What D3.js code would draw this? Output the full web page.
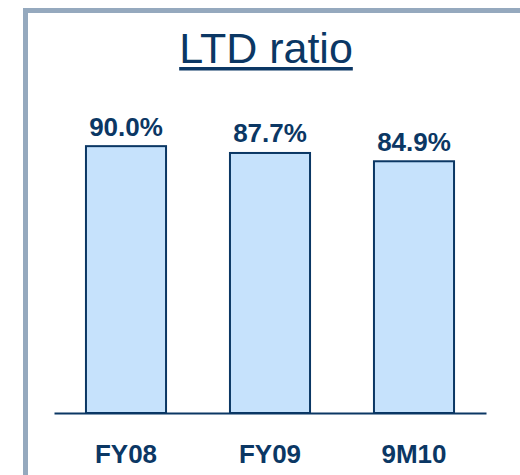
<!DOCTYPE html>
<html>
<head>
<meta charset="utf-8">
<script src="https://cdn.jsdelivr.net/npm/d3@7"></script>
<style>
  body { margin: 0; background: #ffffff; }
  text { font-family: "Liberation Sans", Arial, sans-serif; }
</style>
</head>
<body>
<div id="chart"></div>
<script>
// data
const categories = ['FY08', 'FY09', '9M10'];
const ltdRatio = [90.0, 87.7, 84.9];
const title = 'LTD ratio';

const width = 520;
const height = 475;
const navy = '#0b3764';

const svg = d3.select('#chart')
  .append('svg')
  .attr('width', width)
  .attr('height', height);

// panel frame (top + left edges visible)
svg.append('path')
  .attr('d', 'M25.5,475 L25.5,10.5 L520,10.5')
  .style('fill', 'none')
  .style('stroke', '#95a9be')
  .style('stroke-width', 5);

const x = d3.scaleBand()
  .domain(categories)
  .range([54, 486])
  .paddingInner(0.444)
  .paddingOuter(0.222);

const y = d3.scaleLinear()
  .domain([0, 100])
  .range([413, 116.5]);

// title with a thick underline
const titleText = svg.append('text')
  .attr('x', 266)
  .attr('y', 63)
  .attr('text-anchor', 'middle')
  .style('font-size', '43px')
  .style('fill', navy)
  .text(title);

const tb = titleText.node().getBBox();
svg.append('rect')
  .attr('x', tb.x)
  .attr('y', 67)
  .attr('width', tb.width)
  .attr('height', 3.5)
  .style('fill', navy);

// bars
svg.selectAll('rect.bar')
  .data(ltdRatio)
  .enter()
  .append('rect')
  .attr('class', 'bar')
  .attr('x', (d, i) => x(categories[i]))
  .attr('y', d => y(d))
  .attr('width', x.bandwidth())
  .attr('height', d => y(0) - y(d))
  .style('fill', '#c6e2fc')
  .style('stroke', navy)
  .style('stroke-width', 2);

// value labels
svg.selectAll('text.value')
  .data(ltdRatio)
  .enter()
  .append('text')
  .attr('class', 'value')
  .attr('x', (d, i) => x(categories[i]) + x.bandwidth() / 2)
  .attr('y', d => y(d) - 10.5)
  .attr('text-anchor', 'middle')
  .style('font-size', '26px')
  .style('font-weight', 'bold')
  .style('fill', navy)
  .text(d => d.toFixed(1) + '%');

// baseline axis
const axis = svg.append('g')
  .attr('transform', `translate(0, ${y(0)})`)
  .call(d3.axisBottom(x).tickSize(0).tickPadding(0));

axis.select('.domain')
  .style('stroke', navy)
  .style('stroke-width', 2);

axis.selectAll('.tick text')
  .attr('dy', null)
  .attr('y', 50)
  .style('font-size', '26px')
  .style('font-weight', 'bold')
  .style('font-family', '"Liberation Sans", Arial, sans-serif')
  .style('fill', navy);
</script>
</body>
</html>
